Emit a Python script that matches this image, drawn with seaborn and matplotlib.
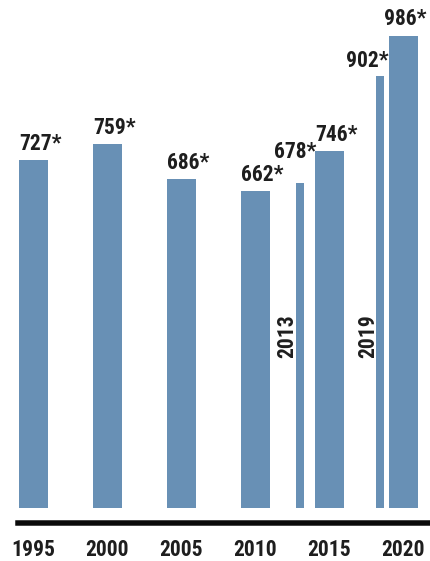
import numpy as np
import pandas as pd
import matplotlib
matplotlib.use("Agg")
import matplotlib.pyplot as plt
from matplotlib import font_manager
import seaborn as sns

# ---------------- data ----------------
main_years = [1995, 2000, 2005, 2010, 2015, 2020]
main_values = [727, 759, 686, 662, 746, 986]
interim_years = [2013, 2019]
interim_values = [678, 902]
value_suffix = "*"

# ---------------- style / layout ----------------
BAR = "#6890B5"
TEXT = "#1e1e1e"
PX = 0.72  # points per pixel at 100 dpi
unit_px = 73.98          # pixels per category step
main_w = 29 / unit_px
thin_w = 8 / unit_px
gap_w = 5 / unit_px
k = 0.479                # pixels per value unit

names = {f.name for f in font_manager.fontManager.ttflist}
if "Roboto Condensed" in names:
    FAMILY, FS = "Roboto Condensed", 15.5
elif "Liberation Sans Narrow" in names:
    FAMILY, FS = "Liberation Sans Narrow", 15.5
else:
    FAMILY, FS = "Roboto", 14

sns.set_theme(style="white")
plt.rcParams["font.family"] = [FAMILY, "DejaVu Sans"]

fig = plt.figure(figsize=(4.3, 5.61), dpi=100)
ax = fig.add_axes([18 / 430, 38 / 561, 412 / 430, 523 / 561])

# positions derived from the years
main_pos = np.arange(len(main_years), dtype=float)
interim_pos = []
for y in interim_years:
    i = int(np.searchsorted(main_years, y))
    frac = (y - main_years[i - 1]) / (main_years[i] - main_years[i - 1])
    p = (i - 1) + frac
    p = min(p, i - (main_w / 2 + gap_w + thin_w / 2))
    interim_pos.append(p)
interim_pos = np.array(interim_pos)

df_main = pd.DataFrame({"pos": main_pos, "value": main_values})
df_int = pd.DataFrame({"pos": interim_pos, "value": interim_values})

sns.barplot(data=df_main, x="pos", y="value", native_scale=True, orient="x",
            width=main_w, color=BAR, saturation=1, linewidth=0,
            errorbar=None, ax=ax)
sns.barplot(data=df_int, x="pos", y="value", native_scale=True, orient="x",
            width=thin_w / np.diff(np.sort(interim_pos)).min(), color=BAR,
            saturation=1, linewidth=0, errorbar=None, ax=ax)

ax.set_xlim(-15.4 / unit_px, len(main_years) - 1 + 26.7 / unit_px)
ax.set_ylim(-15 / k, 508 / k)

ax.set_xticks(main_pos, labels=[str(y) for y in main_years])
ax.set_yticks([])
ax.tick_params(axis="x", length=0, pad=11.5, labelsize=FS, labelcolor=TEXT)
for lbl in ax.get_xticklabels():
    lbl.set_fontweight("bold")
ax.set_xlabel("")
ax.set_ylabel("")
for s in ["left", "right", "top"]:
    ax.spines[s].set_visible(False)
ax.spines["bottom"].set_color("#0a0a0a")
ax.spines["bottom"].set_linewidth(5.5 * PX)

# value labels (nudges in pixels)
nudge = {2020: (1.5, 11), 2013: (-5, 25), 2019: (-12, 9)}
all_years = main_years + interim_years
all_pos = list(main_pos) + list(interim_pos)
all_vals = main_values + interim_values
for yr, p, v in zip(all_years, all_pos, all_vals):
    dx, dy = nudge.get(yr, (7, 10))
    ax.annotate(f"{v}{value_suffix}", xy=(p, v), xytext=(dx * PX, dy * PX),
                textcoords="offset points", ha="center", va="baseline",
                fontsize=FS, fontweight="bold", color=TEXT)

# rotated interim year labels
for yr, p in zip(interim_years, interim_pos):
    ax.annotate(str(yr), xy=(p, 0), xytext=(-12 * PX, 150 * PX),
                textcoords="offset points", ha="center", va="bottom",
                rotation=90, fontsize=FS, fontweight="bold", color=TEXT)

fig.savefig("out.png", dpi=100)
